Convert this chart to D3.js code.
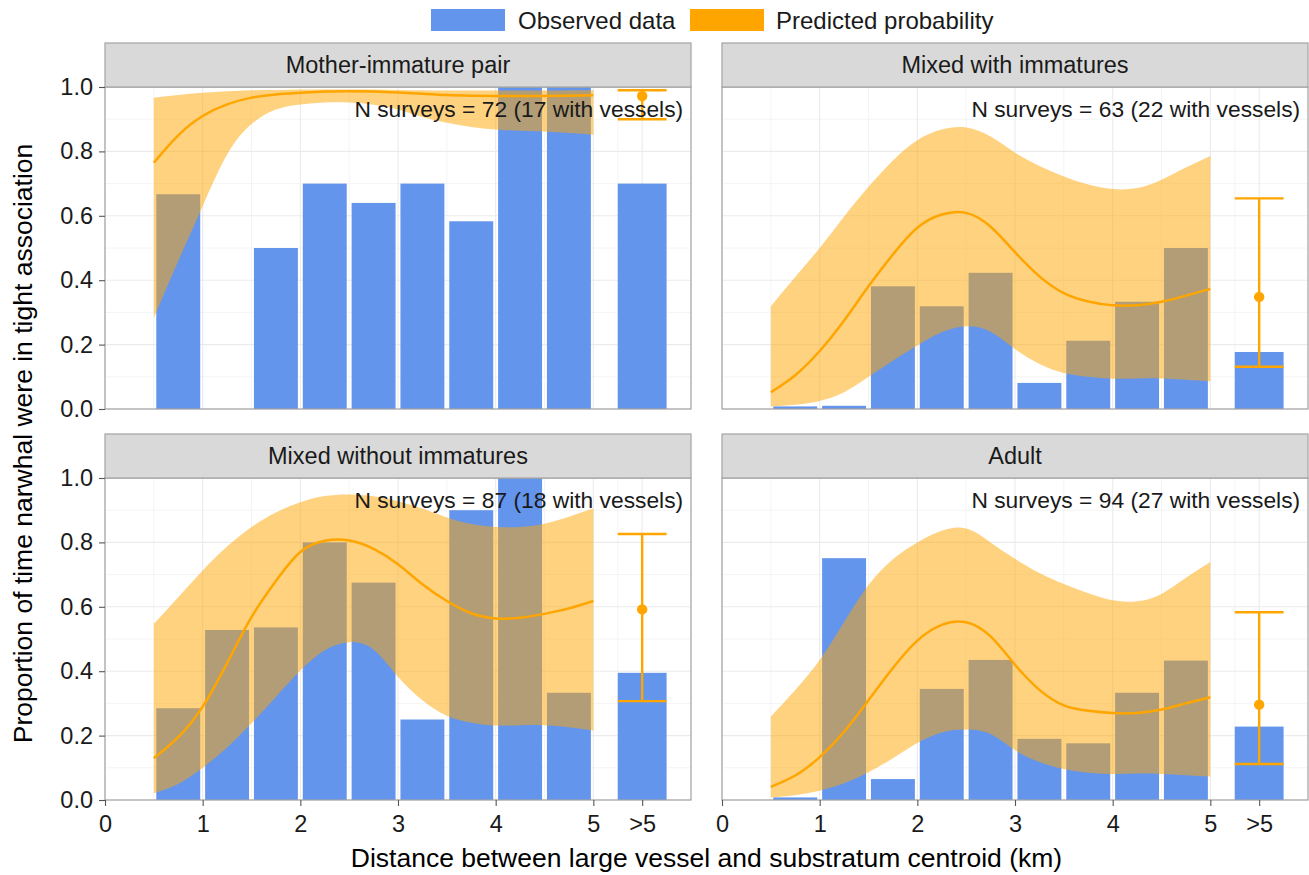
<!DOCTYPE html>
<html>
<head>
<meta charset="utf-8">
<script src="https://cdn.jsdelivr.net/npm/d3@7"></script>
<style>
  html, body { margin: 0; padding: 0; background: #ffffff; }
  svg { display: block; font-family: "Liberation Sans", Arial, Helvetica, sans-serif; }
</style>
</head>
<body>
<svg id="chart" width="1309" height="875"></svg>
<script>
// ---------------- DATA ----------------
const categories = ["Mother-immature pair", "Mixed with immatures", "Mixed without immatures", "Adult"];
const surveyLabels = [
  "N surveys = 72 (17 with vessels)",
  "N surveys = 63 (22 with vessels)",
  "N surveys = 87 (18 with vessels)",
  "N surveys = 94 (27 with vessels)"
];
const binStarts = [0.5, 1.0, 1.5, 2.0, 2.5, 3.0, 3.5, 4.0, 4.5];
const obsMother       = [0.667, null, 0.5, 0.7, 0.64, 0.7, 0.583, 1.0, 1.0];
const obsMixedWith    = [0.008, 0.01, 0.381, 0.319, 0.423, 0.081, 0.212, 0.333, 0.5];
const obsMixedWithout = [0.285, 0.528, 0.536, 0.8, 0.675, 0.25, 0.9, 1.0, 0.333];
const obsAdult        = [0.008, 0.751, 0.065, 0.345, 0.435, 0.19, 0.176, 0.333, 0.433];
const obsBeyond = [0.70, 0.177, 0.395, 0.228];

const curveX = [0.5, 0.75, 1, 1.25, 1.5, 1.75, 2, 2.25, 2.5, 2.75, 3, 3.25, 3.5, 3.75, 4, 4.25, 4.5, 4.75, 5];
const fitMother = [0.765, 0.85, 0.91, 0.946, 0.967, 0.977, 0.982, 0.986, 0.987, 0.986, 0.983, 0.979, 0.975, 0.973, 0.972, 0.972, 0.972, 0.973, 0.974];
const loMother  = [0.283, 0.46, 0.63, 0.79, 0.885, 0.93, 0.946, 0.952, 0.952, 0.945, 0.93, 0.907, 0.889, 0.876, 0.868, 0.864, 0.862, 0.857, 0.852];
const hiMother  = [0.967, 0.975, 0.982, 0.987, 0.99, 0.991, 0.992, 0.992, 0.992, 0.992, 0.991, 0.99, 0.989, 0.989, 0.989, 0.989, 0.989, 0.99, 0.99];

const fitMixedWith = [0.052, 0.105, 0.18, 0.275, 0.381, 0.48, 0.563, 0.604, 0.609, 0.566, 0.487, 0.412, 0.36, 0.334, 0.322, 0.322, 0.333, 0.352, 0.373];
const loMixedWith  = [0.008, 0.013, 0.025, 0.052, 0.10, 0.15, 0.197, 0.238, 0.257, 0.24, 0.186, 0.14, 0.112, 0.10, 0.094, 0.095, 0.095, 0.091, 0.086];
const hiMixedWith  = [0.319, 0.41, 0.50, 0.598, 0.69, 0.772, 0.835, 0.868, 0.874, 0.846, 0.796, 0.755, 0.722, 0.697, 0.683, 0.686, 0.712, 0.75, 0.786];

const fitMixedWithout = [0.13, 0.195, 0.29, 0.425, 0.568, 0.68, 0.77, 0.805, 0.806, 0.78, 0.732, 0.67, 0.618, 0.58, 0.564, 0.566, 0.578, 0.595, 0.618];
const loMixedWithout  = [0.021, 0.05, 0.10, 0.163, 0.238, 0.32, 0.402, 0.465, 0.49, 0.467, 0.383, 0.31, 0.262, 0.24, 0.231, 0.232, 0.232, 0.226, 0.216];
const hiMixedWithout  = [0.547, 0.63, 0.713, 0.787, 0.848, 0.893, 0.925, 0.944, 0.949, 0.943, 0.928, 0.905, 0.877, 0.857, 0.848, 0.848, 0.858, 0.88, 0.905];

const fitAdult = [0.041, 0.076, 0.133, 0.212, 0.31, 0.41, 0.495, 0.544, 0.552, 0.508, 0.42, 0.342, 0.294, 0.277, 0.27, 0.27, 0.281, 0.30, 0.319];
const loAdult  = [0.008, 0.015, 0.029, 0.052, 0.086, 0.13, 0.177, 0.21, 0.219, 0.205, 0.155, 0.118, 0.096, 0.085, 0.081, 0.082, 0.081, 0.077, 0.073];
const hiAdult  = [0.259, 0.342, 0.435, 0.553, 0.668, 0.748, 0.80, 0.836, 0.843, 0.80, 0.749, 0.705, 0.671, 0.642, 0.62, 0.617, 0.64, 0.69, 0.739];

const beyondEst = [0.972, 0.348, 0.592, 0.296];
const beyondLo  = [0.90, 0.131, 0.307, 0.112];
const beyondHi  = [0.99, 0.654, 0.826, 0.583];

const xTickValues = [0, 1, 2, 3, 4, 5, 5.5];
const xTickLabels = ["0", "1", "2", "3", "4", "5", ">5"];
const yTickValues = [0, 0.2, 0.4, 0.6, 0.8, 1.0];
const xMinor = [0.5, 1.5, 2.5, 3.5, 4.5, 5.25, 6];
const yMinor = [0.1, 0.3, 0.5, 0.7, 0.9];
const legendLabels = ["Observed data", "Predicted probability"];
const xTitle = "Distance between large vessel and substratum centroid (km)";
const yTitle = "Proportion of time narwhal were in tight association";

const observed = [obsMother, obsMixedWith, obsMixedWithout, obsAdult];
const fits = [fitMother, fitMixedWith, fitMixedWithout, fitAdult];
const los = [loMother, loMixedWith, loMixedWithout, loAdult];
const his = [hiMother, hiMixedWith, hiMixedWithout, hiAdult];

// ---------------- LAYOUT ----------------
const BLUE = "#6495ED", ORANGE = "#FFA500";
const panelLeft = [105, 722], panelW = 586;
const panelTop = [87, 478], panelH = 322, stripH = 44;
const svg = d3.select("#chart");

const x = d3.scaleLinear().domain([0, 6]);
const y = d3.scaleLinear().domain([0, 1]);

categories.forEach((cat, i) => {
  const col = i % 2, row = Math.floor(i / 2);
  const px = panelLeft[col], py = panelTop[row];
  x.range([0, panelW]);
  y.range([panelH, 0]);
  const g = svg.append("g").attr("transform", `translate(${px},${py})`);

  const clipId = "clip" + i;
  g.append("clipPath").attr("id", clipId).append("rect").attr("width", panelW).attr("height", panelH);

  // grid
  const grid = g.append("g");
  grid.selectAll(".ymin").data(yMinor).join("line")
    .attr("x1", 0).attr("x2", panelW).attr("y1", d => y(d)).attr("y2", d => y(d))
    .attr("stroke", "#F4F4F4").attr("stroke-width", 1);
  grid.selectAll(".xmin").data(xMinor).join("line")
    .attr("y1", 0).attr("y2", panelH).attr("x1", d => x(d)).attr("x2", d => x(d))
    .attr("stroke", "#F4F4F4").attr("stroke-width", 1);
  grid.selectAll(".ymaj").data(yTickValues).join("line")
    .attr("x1", 0).attr("x2", panelW).attr("y1", d => y(d)).attr("y2", d => y(d))
    .attr("stroke", "#EBEBEB").attr("stroke-width", 1.1);
  grid.selectAll(".xmaj").data(xTickValues).join("line")
    .attr("y1", 0).attr("y2", panelH).attr("x1", d => x(d)).attr("x2", d => x(d))
    .attr("stroke", "#EBEBEB").attr("stroke-width", 1.1);

  const content = g.append("g").attr("clip-path", `url(#${clipId})`);

  // bars
  const bars = binStarts.map((b, k) => ({ b, v: observed[i][k] })).filter(d => d.v !== null);
  content.selectAll(".bar").data(bars).join("rect")
    .attr("x", d => x(d.b + 0.025)).attr("width", x(0.45) - x(0))
    .attr("y", d => y(d.v)).attr("height", d => y(0) - y(d.v))
    .attr("fill", BLUE);
  content.append("rect")
    .attr("x", x(5.25)).attr("width", x(0.5) - x(0))
    .attr("y", y(obsBeyond[i])).attr("height", y(0) - y(obsBeyond[i]))
    .attr("fill", BLUE);

  // ribbon + line
  const pts = curveX.map((cx, k) => ({ x: cx, f: fits[i][k], lo: los[i][k], hi: his[i][k] }));
  const area = d3.area().x(d => x(d.x)).y0(d => y(d.lo)).y1(d => y(d.hi)).curve(d3.curveNatural);
  const line = d3.line().x(d => x(d.x)).y(d => y(d.f)).curve(d3.curveNatural);
  content.append("path").datum(pts).attr("d", area).attr("fill", ORANGE).attr("fill-opacity", 0.5);
  content.append("path").datum(pts).attr("d", line).attr("fill", "none").attr("stroke", ORANGE).attr("stroke-width", 2.5);

  // error bar for >5
  const eb = content.append("g").attr("stroke", ORANGE).attr("stroke-width", 2.4);
  eb.append("line").attr("x1", x(5.5)).attr("x2", x(5.5)).attr("y1", y(beyondLo[i])).attr("y2", y(beyondHi[i]));
  eb.append("line").attr("x1", x(5.25)).attr("x2", x(5.75)).attr("y1", y(beyondLo[i])).attr("y2", y(beyondLo[i]));
  eb.append("line").attr("x1", x(5.25)).attr("x2", x(5.75)).attr("y1", y(beyondHi[i])).attr("y2", y(beyondHi[i]));
  content.append("circle").attr("cx", x(5.5)).attr("cy", y(beyondEst[i])).attr("r", 5.2).attr("fill", ORANGE);

  // N label
  g.append("text").attr("x", x(5.92)).attr("y", y(0.927)).attr("text-anchor", "end")
    .attr("dominant-baseline", "middle").attr("font-size", 22.8).attr("fill", "#1a1a1a")
    .text(surveyLabels[i]);

  // border
  g.append("rect").attr("width", panelW).attr("height", panelH)
    .attr("fill", "none").attr("stroke", "#A3A3A3").attr("stroke-width", 1.2);

  // strip
  g.append("rect").attr("x", 0).attr("y", -stripH).attr("width", panelW).attr("height", stripH)
    .attr("fill", "#D9D9D9").attr("stroke", "#A3A3A3").attr("stroke-width", 1.2);
  g.append("text").attr("x", panelW / 2).attr("y", -stripH / 2).attr("text-anchor", "middle")
    .attr("dominant-baseline", "central").attr("font-size", 23.5).attr("fill", "#1a1a1a").text(cat);

  // axes
  if (col === 0) {
    const ya = g.append("g").call(d3.axisLeft(y).tickValues(yTickValues).tickFormat(d3.format(".1f")).tickSize(6).tickPadding(6));
    ya.select(".domain").remove();
    ya.selectAll("line").attr("stroke", "#555").attr("stroke-width", 1.1);
    ya.selectAll("text").attr("font-size", 23.5).attr("fill", "#1a1a1a").attr("font-family", "Liberation Sans, Arial, sans-serif");
  }
  if (row === 1) {
    const xa = g.append("g").attr("transform", `translate(0,${panelH})`)
      .call(d3.axisBottom(x).tickValues(xTickValues).tickFormat((d, k) => xTickLabels[k]).tickSize(6).tickPadding(9));
    xa.select(".domain").remove();
    xa.selectAll("line").attr("stroke", "#555").attr("stroke-width", 1.1);
    xa.selectAll("text").attr("font-size", 23.5).attr("fill", "#1a1a1a").attr("font-family", "Liberation Sans, Arial, sans-serif");
  }
});

// axis titles
svg.append("text").attr("x", (panelLeft[0] + panelLeft[1] + panelW) / 2).attr("y", 867)
  .attr("text-anchor", "middle").attr("font-size", 26.5).attr("fill", "#000").text(xTitle);
svg.append("text").attr("transform", `translate(32,${(panelTop[0] + panelTop[1] + panelH) / 2}) rotate(-90)`)
  .attr("text-anchor", "middle").attr("font-size", 26.5).attr("fill", "#000").text(yTitle);

// legend
const lg = svg.append("g");
const keys = [{ x: 431, fill: BLUE, tx: 518 }, { x: 690, fill: ORANGE, tx: 776 }];
keys.forEach((k, j) => {
  lg.append("rect").attr("x", k.x).attr("y", 9).attr("width", 74).attr("height", 22).attr("fill", k.fill);
  lg.append("text").attr("x", k.tx).attr("y", 20).attr("dominant-baseline", "central")
    .attr("font-size", 24).attr("fill", "#1a1a1a").text(legendLabels[j]);
});
</script>
</body>
</html>
